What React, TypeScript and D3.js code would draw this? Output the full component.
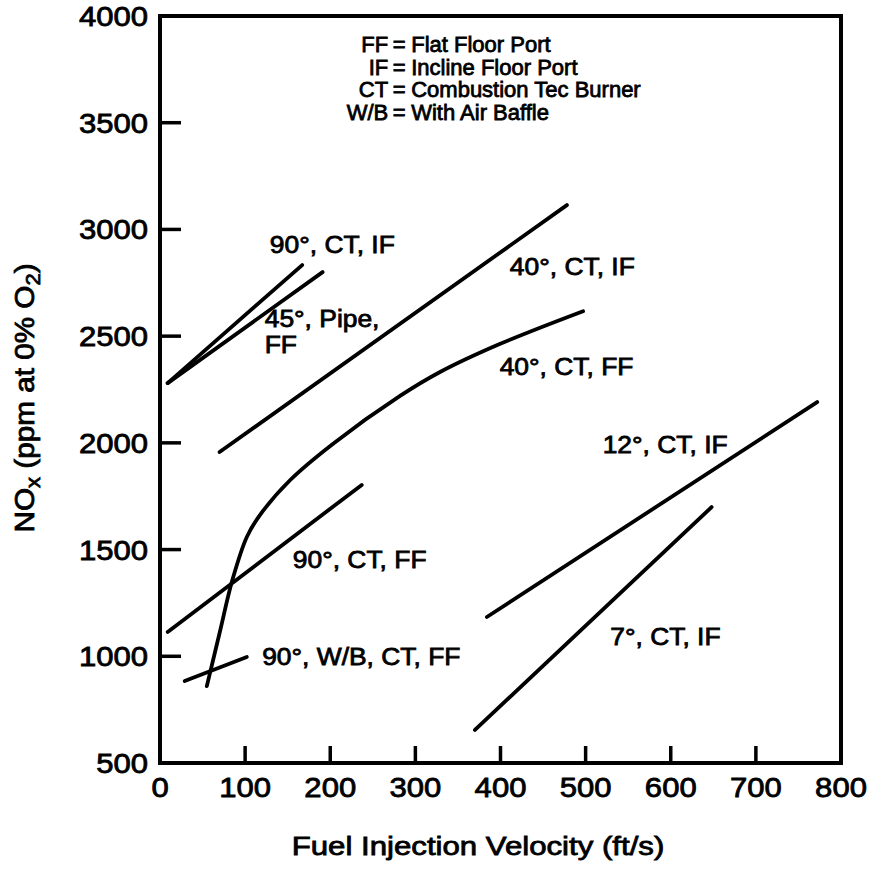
import React from 'react';
import * as d3 from 'd3';

// ---- data (x: fuel injection velocity ft/s, y: NOx ppm) ----
const xTicks = [0, 100, 200, 300, 400, 500, 600, 700, 800];
const yTicks = [500, 1000, 1500, 2000, 2500, 3000, 3500, 4000];

const s90CTIF: [number, number][] = [[9, 2280], [167, 2833]];
const s45PipeFF: [number, number][] = [[9, 2280], [191, 2800]];
const s40CTIF: [number, number][] = [[70, 1957], [478, 3114]];
const s40CTFF: [number, number][] = [
  [55, 860], [70, 1109], [85, 1357], [102, 1559], [118, 1665], [153, 1826],
  [203, 1995], [282, 2220], [329, 2332], [399, 2463], [497, 2617],
];
const s90CTFF: [number, number][] = [[9, 1114], [237, 1803]];
const s90WBCTFF: [number, number][] = [[29, 884], [102, 997]];
const s12CTIF: [number, number][] = [[384, 1184], [772, 2191]];
const s7CTIF: [number, number][] = [[370, 655], [648, 1699]];

const seriesList = [s90CTIF, s45PipeFF, s40CTIF, s40CTFF, s90CTFF, s90WBCTFF, s12CTIF, s7CTIF];

const labelTexts = ['90°, CT, IF', '45°, Pipe,', 'FF', '40°, CT, IF', '40°, CT, FF', '12°, CT, IF', '7°, CT, IF', '90°, CT, FF', '90°, W/B, CT, FF'];
const labelAt: [number, number][] = [
  [129, 2890], [123, 2543], [123, 2421], [411, 2786], [399, 2318], [520, 1952], [529, 1053], [156, 1414], [120, 959],
];

const legendAbbr = ['FF', 'IF', 'CT', 'W/B'];
const legendDesc = ['Flat Floor Port', 'Incline Floor Port', 'Combustion Tec Burner', 'With Air Baffle'];
const legendY = [3832, 3724, 3621, 3513];
const legendEqX = 281;

const W = 874, H = 869;
const FONT = '"Liberation Sans", Arial, Helvetica, sans-serif';

const x = d3.scaleLinear().domain([0, 800]).range([160, 841]);
const y = d3.scaleLinear().domain([500, 4000]).range([763, 16]);

const line = d3.line<[number, number]>().x(d => x(d[0])).y(d => y(d[1]));
const curve = d3.line<[number, number]>().x(d => x(d[0])).y(d => y(d[1])).curve(d3.curveCatmullRom.alpha(0.5));

function T({ tx, ty, size, sx = 1, anchor = 'start', children, rotate = 0, sw = 0.8 }: any) {
  return (
    <text
      transform={`translate(${tx},${ty}) rotate(${rotate}) scale(${sx},1)`}
      fontSize={size}
      textAnchor={anchor}
      fontFamily={FONT}
      fill="#000"
      stroke="#000"
      strokeWidth={sw}
    >
      {children}
    </text>
  );
}

export default function App() {
  return (
    <svg width={W} height={H} style={{ position: 'fixed', left: 0, top: 0, background: '#fff' }}>
      <rect x={0} y={0} width={W} height={H} fill="#fff" />
      {/* frame */}
      <rect x={x(0)} y={y(4000)} width={x(800) - x(0)} height={y(500) - y(4000)} fill="none" stroke="#000" strokeWidth={4} />
      {/* y ticks */}
      {yTicks.map(t => (
        <g key={'y' + t}>
          {t > 500 && t < 4000 && <line x1={x(0)} x2={x(0) + 21} y1={y(t)} y2={y(t)} stroke="#000" strokeWidth={3.5} />}
          <T tx={x(0) - 12} ty={y(t) + 10} size={27} sx={1.15} anchor="end">{t}</T>
        </g>
      ))}
      {/* x ticks */}
      {xTicks.map(t => (
        <g key={'x' + t}>
          {t > 0 && t < 800 && <line x1={x(t)} x2={x(t)} y1={y(500)} y2={y(500) - 17} stroke="#000" strokeWidth={3.5} />}
          <T tx={x(t)} ty={797} size={27} sx={1.15} anchor="middle">{t}</T>
        </g>
      ))}
      {/* axis titles */}
      <T tx={478} ty={855} size={26} sx={1.2} anchor="middle">Fuel Injection Velocity (ft/s)</T>
      <T tx={34} ty={398} size={27} sx={1.1} anchor="middle" rotate={-90}>
        NO<tspan fontSize={20} dy={6}>x</tspan><tspan dy={-6}> (ppm at 0% O</tspan><tspan fontSize={20} dy={6}>2</tspan><tspan dy={-6}>)</tspan>
      </T>
      {/* series */}
      {seriesList.map((s, i) => (
        <path key={'s' + i} d={(s === s40CTFF ? curve(s) : line(s)) || ''} fill="none" stroke="#000" strokeWidth={3.8} strokeLinecap="round" strokeLinejoin="round" />
      ))}
      {/* labels */}
      {labelTexts.map((t, i) => (
        <T key={'l' + i} tx={x(labelAt[i][0])} ty={y(labelAt[i][1])} size={24} sx={1.1}>{t}</T>
      ))}
      {/* legend */}
      {legendAbbr.map((a, i) => (
        <g key={'lg' + i}>
          <T tx={x(legendEqX) - 11} ty={y(legendY[i])} size={22} anchor="end">{a}</T>
          <T tx={x(legendEqX)} ty={y(legendY[i])} size={22} anchor="middle">=</T>
          <T tx={x(legendEqX) + 12} ty={y(legendY[i])} size={22}>{legendDesc[i]}</T>
        </g>
      ))}
    </svg>
  );
}
